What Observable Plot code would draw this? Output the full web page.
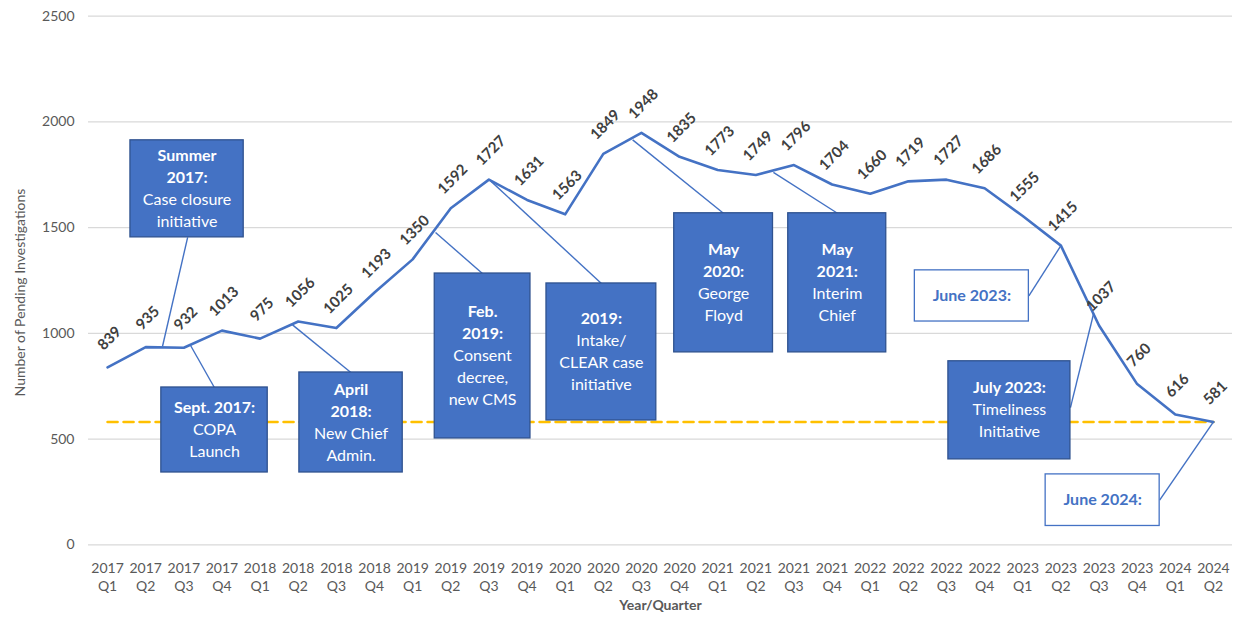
<!DOCTYPE html>
<html><head><meta charset="utf-8">
<script src="https://cdn.jsdelivr.net/npm/d3@7"></script>
<script src="https://cdn.jsdelivr.net/npm/@observablehq/plot@0.6"></script>
<style>html,body{margin:0;padding:0;background:#fff;} #chart svg{display:block;}</style>
</head><body><div id="chart"></div>
<script>
// ---- data ----
const years = ["2017","2017","2017","2017","2018","2018","2018","2018","2019","2019","2019","2019","2020","2020","2020","2020","2021","2021","2021","2021","2022","2022","2022","2022","2023","2023","2023","2023","2024","2024"];
const quarters = ["Q1","Q2","Q3","Q4","Q1","Q2","Q3","Q4","Q1","Q2","Q3","Q4","Q1","Q2","Q3","Q4","Q1","Q2","Q3","Q4","Q1","Q2","Q3","Q4","Q1","Q2","Q3","Q4","Q1","Q2"];
const pending = [839,935,932,1013,975,1056,1025,1193,1350,1592,1727,1631,1563,1849,1948,1835,1773,1749,1796,1704,1660,1719,1727,1686,1555,1415,1037,760,616,581];
const targetValue = 581;
const yTicks = [0,500,1000,1500,2000,2500];

// annotation text
const noteBold = [["Summer","2017:"],["Sept. 2017:"],["April","2018:"],["Feb.","2019:"],["2019:"],["May","2020:"],["May","2021:"],["June 2023:"],["July 2023:"],["June 2024:"]];
const noteText = [["Case closure","initiative"],["COPA","Launch"],["New Chief","Admin."],["Consent","decree,","new CMS"],["Intake/","CLEAR case","initiative"],["George","Floyd"],["Interim","Chief"],[],["Timeliness","Initiative"],[]];
const noteFilled = [true,true,true,true,true,true,true,false,true,false];
// box extents in data units (quarter index, pending count)
const noteX1 = [0.60,1.41,5.03,8.58,11.51,14.86,17.85,21.17,22.05,24.60];
const noteX2 = [3.57,4.20,7.74,11.09,14.39,17.45,20.42,24.16,25.25,27.59];
const noteY1 = [1454,342,342,503,588,910,910,1056,404,89];
const noteY2 = [1913,744,815,1283,1236,1568,1568,1298,868,333];
// leader line: start on box, end on line
const leadFromX = [2.10,2.80,6.38,9.83,12.95,16.15,19.14,24.16,25.25,27.59];
const leadFromY = [1454,744,815,1283,1236,1568,1568,1177,649,211];
const leadToX = [1.44,2.17,4.85,8.60,10.05,13.77,17.46,25.0,25.86,29];
const leadToY = [938,945,1040,1477,1720,1915,1761,1415,1095,581];

// ---- build ----
const rows = pending.map((v,i)=>({i, v, year: years[i], q: quarters[i]}));
const notes = noteBold.map((b,k)=>({
  bold: b, text: noteText[k], filled: noteFilled[k],
  x1: noteX1[k], x2: noteX2[k], y1: noteY1[k], y2: noteY2[k],
  fx: leadFromX[k], fy: leadFromY[k], tx: leadToX[k], ty: leadToY[k]
}));

const blue = "#4472C4";
const font = "Lato, 'Open Sans', sans-serif";

const textMarks = [];
notes.forEach(n => {
  const lines = [...n.bold.map(t=>({t,b:true})), ...n.text.map(t=>({t,b:false}))];
  const L = lines.length;
  lines.forEach((ln,k) => {
    textMarks.push(Plot.text([n], {
      x: d => (d.x1+d.x2)/2, y: d => (d.y1+d.y2)/2,
      text: () => ln.t,
      dy: (k-(L-1)/2)*22,
      fontWeight: ln.b ? "bold" : "normal",
      fontSize: 16,
      fill: n.filled ? "#ffffff" : blue
    }));
  });
});

const chart = Plot.plot({
  width: 1236, height: 619,
  marginLeft: 88, marginRight: 4, marginTop: 15.7, marginBottom: 74.7,
  style: {fontFamily: font, background: "#fff"},
  x: {type: "linear", domain: [-0.5, 29.5]},
  y: {domain: [0, 2500]},
  marks: [
    Plot.gridY({ticks: yTicks, stroke: "#d9d9d9", strokeOpacity: 1, strokeWidth: 1.2}),
    Plot.axisY({ticks: yTicks, tickFormat: d => String(d), tickSize: 0, tickPadding: 14, fontSize: 14, fill: "#595959", label: null}),
    Plot.axisX({ticks: d3.range(pending.length), tickFormat: i => years[i] + "\n" + quarters[i],
      tickSize: 0, tickPadding: 15, fontSize: 14, fill: "#595959", label: null, lineHeight: 1.3}),
    Plot.text(["Number of Pending Investigations"], {frameAnchor: "left", textAnchor: "middle", rotate: -90, dx: -68, dy: 12, text: d => d, fontSize: 14, fill: "#595959"}),
    Plot.text(["Year/Quarter"], {frameAnchor: "bottom", dy: 65, text: d => d, fontSize: 14, fontWeight: "bold", fill: "#595959"}),
    Plot.lineY([{i:0, v:targetValue},{i:pending.length-1, v:targetValue}], {x: "i", y: "v", stroke: "#FFC000", strokeWidth: 2.6, strokeDasharray: "10,6"}),
    Plot.link(notes, {x1: "fx", y1: "fy", x2: "tx", y2: "ty", stroke: blue, strokeWidth: 1.4}),
    Plot.line(rows, {x: "i", y: "v", stroke: blue, strokeWidth: 2.6}),
    Plot.text(rows, {x: "i", y: "v", text: d => String(d.v), rotate: -45, dy: -29, dx: 2, fontSize: 15, fontWeight: "bold", fill: "#404040"}),
    Plot.rect(notes.filter(n=>n.filled), {x1: "x1", x2: "x2", y1: "y1", y2: "y2", fill: blue, stroke: "#2F528F", strokeWidth: 1.3}),
    Plot.rect(notes.filter(n=>!n.filled), {x1: "x1", x2: "x2", y1: "y1", y2: "y2", fill: "#fff", stroke: blue, strokeWidth: 1.3}),
    ...textMarks
  ]
});
document.getElementById("chart").appendChild(chart);
</script>
</body></html>
